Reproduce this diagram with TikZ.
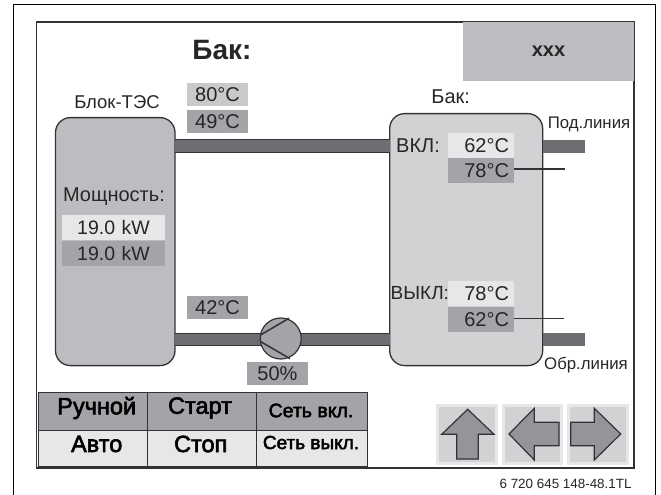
\documentclass[tikz,border=0pt]{standalone}
\usepackage{fontspec}
\setmainfont{Liberation Sans}
\newfontfamily\heavyfont[FakeBold=2.6]{Liberation Sans}
\usepackage{tikz}
\usetikzlibrary{positioning}
\definecolor{inkdark}{HTML}{333335}
\definecolor{pipegray}{HTML}{6D6E71}
\definecolor{midgray}{HTML}{A3A4A7}
\definecolor{blockgray}{HTML}{BCBDC0}
\definecolor{tankgray}{HTML}{D1D2D4}
\definecolor{palegray}{HTML}{E6E7E8}
\definecolor{lightgray}{HTML}{C8C9CB}
\definecolor{arrowgray}{HTML}{939598}
\newcommand{\px}[1]{\fontsize{#1}{#1}\selectfont}

\begin{document}
\begin{tikzpicture}[x=1pt, y=-1pt, node distance=4pt, text=black!85]
\tikzstyle{label} = [font=\px{20}, inner sep=0pt]
\tikzstyle{smalllabel} = [font=\px{16.8}, inner sep=0pt]
\tikzstyle{block} = [rectangle, draw=inkdark, line width=1.3pt, rounded corners=15pt, outer sep=0pt]
\tikzstyle{reading} = [rectangle, font=\px{20}, inner sep=0pt, minimum width=61pt, minimum height=23pt]
\tikzstyle{setpoint} = [rectangle, font=\px{20}, inner xsep=5pt, inner ysep=0pt, text width=56pt, align=right, minimum height=25pt]
\tikzstyle{power} = [rectangle, font=\px{19.5}, inner sep=0pt, text width=103pt, align=center, minimum height=25pt]
\tikzstyle{tablecell} = [rectangle, draw=inkdark, line width=0.8pt, inner sep=0pt, outer sep=0pt, font=\heavyfont\px{23.5}, text=black]
\tikzstyle{button} = [rectangle, draw=palegray, line width=3pt, fill=tankgray, inner sep=0pt]
\tikzstyle{arrowshape} = [draw=inkdark, line width=1.2pt, fill=arrowgray, line join=miter]
\tikzstyle{pipe} = [line width=1pt, draw=inkdark, double=pipegray, double distance=11.5pt]
\tikzstyle{stub} = [line width=13pt, draw=pipegray]
\tikzstyle{wire} = [line width=1.5pt, draw=inkdark]
\useasboundingbox (0,0) rectangle (661,495);
\draw [line width=1pt] (13.5,495) -- (13.5,4.5) -- (655,4.5) -- (655,495);
\node (screen) [rectangle, draw=inkdark, line width=1.5pt, inner sep=0pt, minimum width=597.5pt, minimum height=446pt] at (335.25,245) {};

\node (title) [font=\bfseries\px{28}, inner sep=0pt] at (222,50) {Бак:};
\node (status) [rectangle, fill=blockgray, inner sep=0pt, minimum width=171pt, minimum height=59pt, font=\bfseries\px{20}] at (548.5,51.5) {xxx};

% left block
\node (unit) [block, fill=blockgray, minimum width=119.5pt, minimum height=248pt] at (115.25,241.6) {};
\node (unitname) [label, font=\px{18.5}] at (117,102) {Блок-ТЭС};
\node (powerlabel) [label] at (114,197) {Мощность:};
\node (powerset) [power, fill=palegray] at (113.5,227.5) {19.0 kW\hspace{6pt}};
\node (poweract) [power, fill=midgray, below = 1pt of powerset] {19.0 kW\hspace{6pt}};

% tank
\node (tank) [block, fill=tankgray, minimum width=153pt, minimum height=252pt] at (466.2,239.6) {};
\node (tankname) [label] at (450.7,97) {Бак:};
\node (onlabel) [label, anchor=west] at (396,146) {ВКЛ:};
\node (onset) [setpoint, fill=palegray] at (481,145.5) {62°C};
\node (onact) [setpoint, fill=midgray, below = 0pt of onset] {78°C};
\node (offlabel) [label, font=\px{19}, anchor=west] at (390.5,293) {ВЫКЛ:};
\node (offset) [setpoint, fill=palegray] at (481,293.5) {78°C};
\node (offact) [setpoint, fill=midgray, below = 0.5pt of offset] {62°C};
\node (flowlabel) [smalllabel] at (589,124.5) {Под.линия};
\node (returnlabel) [smalllabel] at (586,365) {Обр.линия};

% readings on the pipes
\node (flowset) [reading, fill=lightgray] at (217.5,94.5) {80°C};
\node (flowact) [reading, fill=midgray, below = of flowset] {49°C};
\node (returnact) [reading, fill=midgray] at (217.5,307.5) {42°C};

% pipes
\coordinate (flowpipe) at (280,146.2);
\coordinate (returnpipe) at (280,339.4);
\coordinate (flowend) at (585,146.2);
\coordinate (returnend) at (585,339.4);
\coordinate (onend) at (565,169);
\coordinate (offend) at (564,318.7);
\draw [pipe] (unit.east |- flowpipe) -- (tank.west |- flowpipe);
\draw [pipe] (unit.east |- returnpipe) -- (tank.west |- returnpipe);
\draw [stub] (tank.east |- flowend) -- (flowend);
\draw [stub] (tank.east |- returnend) -- (returnend);
\draw [wire] (onact.east |- onend) -- (onend);
\draw [wire] (offact.east |- offend) -- (offend);

% pump
\node (pump) [circle, draw=inkdark, line width=1.2pt, fill=midgray, minimum size=41pt, inner sep=0pt] at (280.7,338.5) {};
\draw [wire] (260.5,335) -- (289,318.3);
\draw [wire] (260.5,341.5) -- (290,358.7);
\node (pumpspeed) [reading, fill=midgray] at (277.5,373.5) {50\%};

% table
\node (manual) [tablecell, fill=midgray, minimum width=109.4pt, minimum height=38.4pt] at (93,411.5) {};
\node (start) [tablecell, fill=midgray, minimum width=108.6pt, minimum height=38.4pt, right = 0pt of manual] {};
\node (neton) [tablecell, fill=midgray, minimum width=111pt, minimum height=38.4pt, right = 0pt of start] {};
\node (auto) [tablecell, fill=palegray, minimum width=109.4pt, minimum height=35.6pt, below = 0pt of manual] {};
\node (stop) [tablecell, fill=palegray, minimum width=108.6pt, minimum height=35.6pt, below = 0pt of start] {};
\node (netoff) [tablecell, fill=palegray, minimum width=111pt, minimum height=35.6pt, below = 0pt of neton] {};
\node (manualtext) [tablecell, draw=none] at (96.7,408) {Ручной};
\node (starttext) [tablecell, draw=none] at (200,408) {Старт};
\node (netontext) [tablecell, draw=none, font=\heavyfont\px{19.5}] at (311,410.5) {Сеть вкл.};
\node (autotext) [tablecell, draw=none] at (96.7,444) {Авто};
\node (stoptext) [tablecell, draw=none] at (200.7,444) {Стоп};
\node (netofftext) [tablecell, draw=none, font=\heavyfont\px{19}] at (311,442.5) {Сеть выкл.};

% buttons
\node (upbtn) [button, minimum width=59pt, minimum height=58pt] at (467,434) {};
\node (leftbtn) [button, minimum width=58pt, minimum height=58pt] at (532.5,434) {};
\node (rightbtn) [button, minimum width=59pt, minimum height=58pt] at (598.3,434) {};
\draw [arrowshape] (467.7,409.3) -- (494,434.3) -- (478.3,434.3) -- (478.3,459) -- (456.7,459) -- (456.7,434.3) -- (441.7,434.3) -- cycle;
\draw [arrowshape] (509,434) -- (534.3,408.3) -- (534.3,422.3) -- (559,422.3) -- (559,445.7) -- (534.3,445.7) -- (534.3,460) -- cycle;
\draw [arrowshape] (620.7,434) -- (594.3,408.3) -- (594.3,422.3) -- (570.7,422.3) -- (570.7,445.7) -- (594.3,445.7) -- (594.3,460) -- cycle;

\node (docnumber) [font=\px{13.4}, inner sep=0pt, anchor=east] at (631.7,484.3) {6 720 645 148-48.1TL};
\end{tikzpicture}
\end{document}
